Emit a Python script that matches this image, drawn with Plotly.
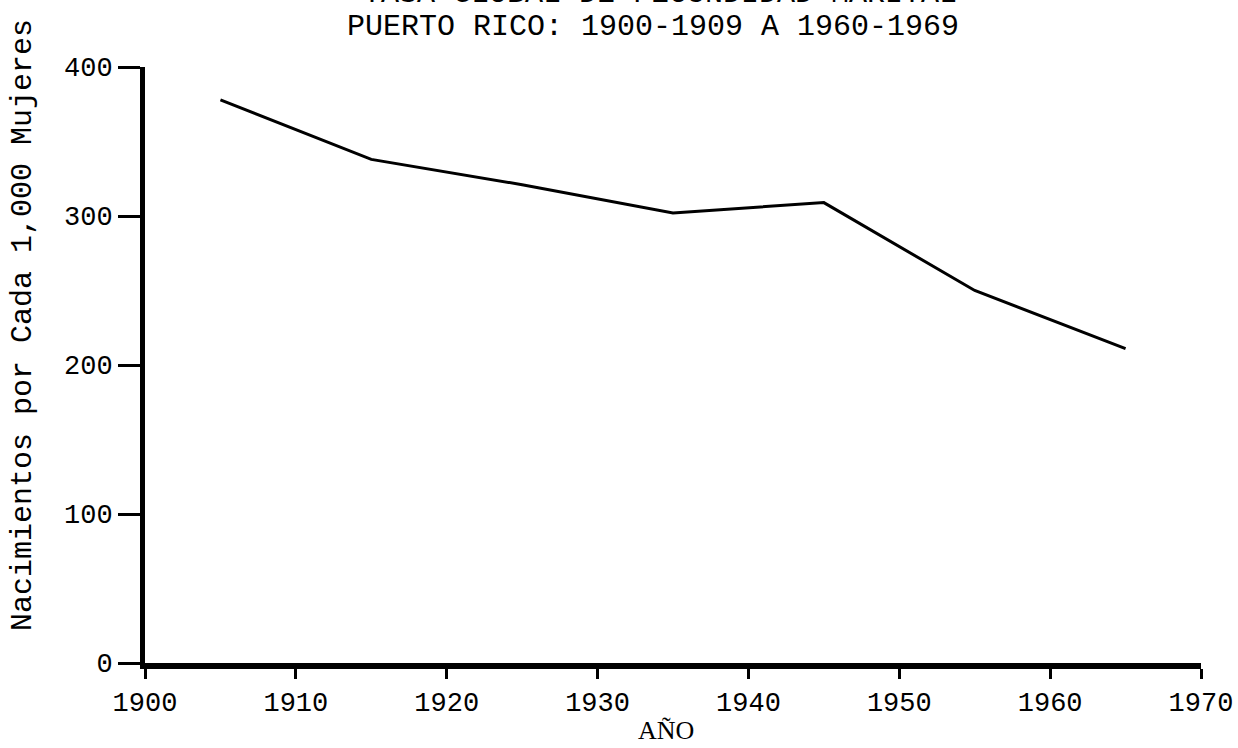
import plotly.graph_objects as go

# Data
years = [1905, 1915, 1925, 1935, 1945, 1955, 1965]
rates = [378, 338, 321, 302, 309, 250, 211]

x_ticks = [1900, 1910, 1920, 1930, 1940, 1950, 1960, 1970]
y_ticks = [0, 100, 200, 300, 400]

title_line1 = "TASA GLOBAL DE FECUNDIDAD MARITAL"
title_line2 = "PUERTO RICO: 1900-1909 A 1960-1969"
x_title = "AÑO"
y_title = "Nacimientos por Cada 1,000 Mujeres"

FONT = "Courier New, Liberation Mono, monospace"

L, R, T, B = 145, 37, 67, 85
W, H = 1238, 748

fig = go.Figure()
fig.add_trace(go.Scatter(
    x=years, y=rates, mode="lines",
    line=dict(color="black", width=3),
    showlegend=False, hoverinfo="x+y",
))

plot_w = W - L - R
plot_h = H - T - B


def px_x(px):
    return (px - L) / plot_w


def px_y(py):
    return (H - B - py) / plot_h


fig.update_layout(
    width=W, height=H,
    paper_bgcolor="white", plot_bgcolor="white",
    margin=dict(l=L, r=R, t=T, b=B, autoexpand=False),
    font=dict(family=FONT, color="black", size=27),
    xaxis=dict(
        range=[1900, 1970], tickvals=x_ticks, ticktext=[str(v) for v in x_ticks],
        showgrid=False, zeroline=False, automargin=False,
        showline=True, linecolor="black", linewidth=6,
        ticks="outside", ticklen=10, tickwidth=3, tickcolor="black",
        tickfont=dict(family=FONT, size=27, color="black"),
    ),
    yaxis=dict(
        range=[0, 400], tickvals=y_ticks, ticktext=[str(v) for v in y_ticks],
        showgrid=False, zeroline=False, automargin=False,
        showline=True, linecolor="black", linewidth=5,
        ticks="outside", ticklen=22, tickwidth=3, tickcolor="black",
        tickfont=dict(family=FONT, size=27, color="black"),
    ),
    annotations=[
        dict(text=title_line1, x=px_x(660), y=px_y(-6), xref="paper", yref="paper",
             showarrow=False, xanchor="center", yanchor="middle",
             font=dict(family=FONT, size=30, color="black")),
        dict(text=title_line2, x=px_x(653), y=px_y(27), xref="paper", yref="paper",
             showarrow=False, xanchor="center", yanchor="middle",
             font=dict(family=FONT, size=30, color="black")),
        dict(text=x_title, x=px_x(666), y=px_y(730), xref="paper", yref="paper",
             showarrow=False, xanchor="center", yanchor="middle",
             font=dict(family="Liberation Serif, serif", size=26, color="black")),
        dict(text=y_title, x=px_x(23), y=px_y(325), xref="paper", yref="paper",
             showarrow=False, xanchor="center", yanchor="middle", textangle=-90,
             font=dict(family=FONT, size=30, color="black")),
    ],
)

fig.write_html("out.html", config={"displayModeBar": False},
               post_script="document.body.style.margin='0';")
